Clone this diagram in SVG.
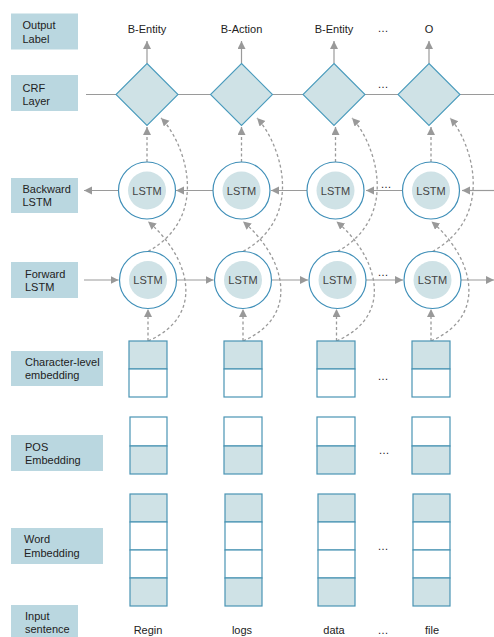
<svg xmlns="http://www.w3.org/2000/svg" width="494" height="637" viewBox="0 0 494 637">
<style>
.lbl{fill:#bad7e0}
.lt{font-family:"Liberation Sans",Arial,sans-serif;font-size:11px;fill:#222}
.ct{font-family:"Liberation Sans",Arial,sans-serif;font-size:11px;fill:#222;text-anchor:middle}
.lstm{font-family:"Liberation Sans",Arial,sans-serif;font-size:11px;fill:#444;text-anchor:middle}
.dia{fill:#cfe2e6;stroke:#4a9bbd;stroke-width:1.1}
.oc{fill:#fff;stroke:#3f8fb8;stroke-width:1.2}
.ic{fill:#cfe2e6}
.cf{fill:#cfe2e6;stroke:#4a94b4;stroke-width:1.2}
.cw{fill:#fff;stroke:#4a94b4;stroke-width:1.2}
.sl{fill:none;stroke:#9a9a9a;stroke-width:1.2}
.dl{fill:none;stroke:#9a9a9a;stroke-width:1.3;stroke-dasharray:3 2.5}
.arr{marker-end:url(#ah)}
</style>
<defs>
<marker id="ah" markerUnits="userSpaceOnUse" markerWidth="9" markerHeight="9" refX="8" refY="4" orient="auto">
<path d="M0,0 L8,4 L0,8 z" fill="#999"/>
</marker>
</defs>

<g id="labels">
<g id="lbl-output"><rect class="lbl" x="11" y="13.5" width="67" height="36"/><text class="lt" x="22.5" y="29">Output</text><text class="lt" x="22.5" y="42.5">Label</text></g>
<g id="lbl-crf"><rect class="lbl" x="11" y="75" width="67" height="36"/><text class="lt" x="22.5" y="91.5">CRF</text><text class="lt" x="22.5" y="105">Layer</text></g>
<g id="lbl-bwd"><rect class="lbl" x="11" y="178" width="67" height="35"/><text class="lt" x="22.5" y="193">Backward</text><text class="lt" x="22.5" y="206">LSTM</text></g>
<g id="lbl-fwd"><rect class="lbl" x="11" y="262" width="67" height="36"/><text class="lt" x="25" y="278">Forward</text><text class="lt" x="25" y="291">LSTM</text></g>
<g id="lbl-char"><rect class="lbl" x="11" y="351" width="92" height="35"/><text class="lt" x="25" y="366">Character-level</text><text class="lt" x="25" y="379">embedding</text></g>
<g id="lbl-pos"><rect class="lbl" x="11" y="435" width="92" height="36"/><text class="lt" x="25" y="450.5">POS</text><text class="lt" x="25" y="464">Embedding</text></g>
<g id="lbl-word"><rect class="lbl" x="11" y="528" width="92" height="36"/><text class="lt" x="24" y="543">Word</text><text class="lt" x="24" y="556.5">Embedding</text></g>
<g id="lbl-input"><rect class="lbl" x="11" y="605" width="67" height="32"/><text class="lt" x="25" y="619.5">Input</text><text class="lt" x="25" y="632.5">sentence</text></g>
</g>

<g id="connectors">
<!-- CRF chain line -->
<path class="sl" d="M86,94.5 H494"/>
<!-- output arrows -->
<path class="sl arr" d="M147,63.5 V41"/>
<path class="sl arr" d="M241.5,63.5 V41"/>
<path class="sl arr" d="M334,63.5 V41"/>
<path class="sl arr" d="M429,63.5 V41"/>
<!-- backward LSTM arrows -->
<path class="sl arr" d="M118.5,190.5 H84"/>
<path class="sl arr" d="M213,190.5 H176"/>
<path class="sl arr" d="M307,190.5 H271"/>
<path class="sl arr" d="M402.5,190.5 H366"/>
<path class="sl arr" d="M494,190.5 H462"/>
<!-- forward LSTM arrows -->
<path class="sl arr" d="M84,280 H118.5"/>
<path class="sl arr" d="M176.5,280 H213.5"/>
<path class="sl arr" d="M271.5,280 H308"/>
<path class="sl arr" d="M366,280 H403"/>
<path class="sl arr" d="M461,280 H494"/>
<!-- vertical dashed: embedding -> forward -->
<path class="dl arr" d="M148,341 V309"/>
<path class="dl arr" d="M243,341 V309"/>
<path class="dl arr" d="M336.5,341 V309"/>
<path class="dl arr" d="M431,341 V309"/>
<!-- vertical dashed: backward -> CRF -->
<path class="dl arr" d="M147,162 V127"/>
<path class="dl arr" d="M241.5,162 V127"/>
<path class="dl arr" d="M335.5,162 V127"/>
<path class="dl arr" d="M431,162 V127"/>
<!-- curved dashed: embedding -> backward -->
<path class="dl arr" d="M148,341 C208,315 188,255 148,221.5"/>
<path class="dl arr" d="M243,341 C303,315 283,255 243,221.5"/>
<path class="dl arr" d="M336.5,341 C396.5,315 376.5,255 336.5,221.5"/>
<path class="dl arr" d="M431,341 C491,315 471,255 431.5,221.5"/>
<!-- curved dashed: forward -> CRF -->
<path class="dl arr" d="M148,251.5 C213,215 183,140 161,118"/>
<path class="dl arr" d="M243,251.5 C308,215 278,140 257,118"/>
<path class="dl arr" d="M337.5,251.5 C402.5,215 373,140 352,118"/>
<path class="dl arr" d="M432.5,251.5 C497.5,215 470,140 450,118"/>
</g>

<g id="out-labels">
<text class="ct" x="147" y="33">B-Entity</text>
<text class="ct" x="241.5" y="33">B-Action</text>
<text class="ct" x="334" y="33">B-Entity</text>
<text class="ct" x="383" y="32">…</text>
<text class="ct" x="429" y="33">O</text>
</g>

<g id="crf-nodes">
<g id="crf1"><polygon class="dia" points="147,63.5 178,94.5 147,125.5 116,94.5"/></g>
<g id="crf2"><polygon class="dia" points="241.5,63.5 272.5,94.5 241.5,125.5 210.5,94.5"/></g>
<g id="crf3"><polygon class="dia" points="334,63.5 365,94.5 334,125.5 303,94.5"/></g>
<g id="crf4"><polygon class="dia" points="429,63.5 460,94.5 429,125.5 398,94.5"/></g>
<text class="ct" x="383" y="88">…</text>
</g>

<g id="bwd-nodes">
<g id="bwd1"><circle class="oc" cx="147" cy="190.5" r="28.5"/><circle class="ic" cx="147" cy="190.5" r="19"/><text class="lstm" x="147" y="194.5">LSTM</text></g>
<g id="bwd2"><circle class="oc" cx="241.5" cy="190.5" r="28.5"/><circle class="ic" cx="241.5" cy="190.5" r="19"/><text class="lstm" x="241.5" y="194.5">LSTM</text></g>
<g id="bwd3"><circle class="oc" cx="335.5" cy="190.5" r="28.5"/><circle class="ic" cx="335.5" cy="190.5" r="19"/><text class="lstm" x="335.5" y="194.5">LSTM</text></g>
<g id="bwd4"><circle class="oc" cx="431" cy="190.5" r="28.5"/><circle class="ic" cx="431" cy="190.5" r="19"/><text class="lstm" x="431" y="194.5">LSTM</text></g>
<text class="ct" x="386" y="188">…</text>
</g>

<g id="fwd-nodes">
<g id="fwd1"><circle class="oc" cx="148" cy="280" r="28.5"/><circle class="ic" cx="148" cy="280" r="19"/><text class="lstm" x="148" y="284">LSTM</text></g>
<g id="fwd2"><circle class="oc" cx="243" cy="280" r="28.5"/><circle class="ic" cx="243" cy="280" r="19"/><text class="lstm" x="243" y="284">LSTM</text></g>
<g id="fwd3"><circle class="oc" cx="337.5" cy="280" r="28.5"/><circle class="ic" cx="337.5" cy="280" r="19"/><text class="lstm" x="337.5" y="284">LSTM</text></g>
<g id="fwd4"><circle class="oc" cx="432.5" cy="280" r="28.5"/><circle class="ic" cx="432.5" cy="280" r="19"/><text class="lstm" x="432.5" y="284">LSTM</text></g>
<text class="ct" x="383" y="276">…</text>
</g>

<g id="char-emb">
<g id="char1"><rect class="cf" x="129" y="341" width="38" height="28"/><rect class="cw" x="129" y="369" width="38" height="28"/></g>
<g id="char2"><rect class="cf" x="224" y="341" width="38" height="28"/><rect class="cw" x="224" y="369" width="38" height="28"/></g>
<g id="char3"><rect class="cf" x="317" y="341" width="38" height="28"/><rect class="cw" x="317" y="369" width="38" height="28"/></g>
<g id="char4"><rect class="cf" x="412" y="341" width="38" height="28"/><rect class="cw" x="412" y="369" width="38" height="28"/></g>
<text class="ct" x="383" y="380">…</text>
</g>

<g id="pos-emb">
<g id="pos1"><rect class="cw" x="130" y="417" width="37" height="29"/><rect class="cf" x="130" y="446" width="37" height="28"/></g>
<g id="pos2"><rect class="cw" x="224" y="417" width="38" height="29"/><rect class="cf" x="224" y="446" width="38" height="28"/></g>
<g id="pos3"><rect class="cw" x="317" y="417" width="38" height="29"/><rect class="cf" x="317" y="446" width="38" height="28"/></g>
<g id="pos4"><rect class="cw" x="412" y="417" width="38" height="29"/><rect class="cf" x="412" y="446" width="38" height="28"/></g>
<text class="ct" x="384" y="454">…</text>
</g>

<g id="word-emb">
<g id="word1"><rect class="cf" x="130" y="494" width="37" height="28"/><rect class="cw" x="130" y="522" width="37" height="28"/><rect class="cw" x="130" y="550" width="37" height="28"/><rect class="cf" x="130" y="578" width="37" height="28"/></g>
<g id="word2"><rect class="cf" x="225" y="494" width="37" height="28"/><rect class="cw" x="225" y="522" width="37" height="28"/><rect class="cw" x="225" y="550" width="37" height="28"/><rect class="cf" x="225" y="578" width="37" height="28"/></g>
<g id="word3"><rect class="cf" x="318" y="494" width="37" height="28"/><rect class="cw" x="318" y="522" width="37" height="28"/><rect class="cw" x="318" y="550" width="37" height="28"/><rect class="cf" x="318" y="578" width="37" height="28"/></g>
<g id="word4"><rect class="cf" x="413" y="494" width="37" height="28"/><rect class="cw" x="413" y="522" width="37" height="28"/><rect class="cw" x="413" y="550" width="37" height="28"/><rect class="cf" x="413" y="578" width="37" height="28"/></g>
<text class="ct" x="383" y="550">…</text>
</g>

<g id="input-words">
<text class="ct" x="148" y="634">Regin</text>
<text class="ct" x="242" y="634">logs</text>
<text class="ct" x="334" y="634">data</text>
<text class="ct" x="383" y="634">…</text>
<text class="ct" x="432" y="634">file</text>
</g>
</svg>
